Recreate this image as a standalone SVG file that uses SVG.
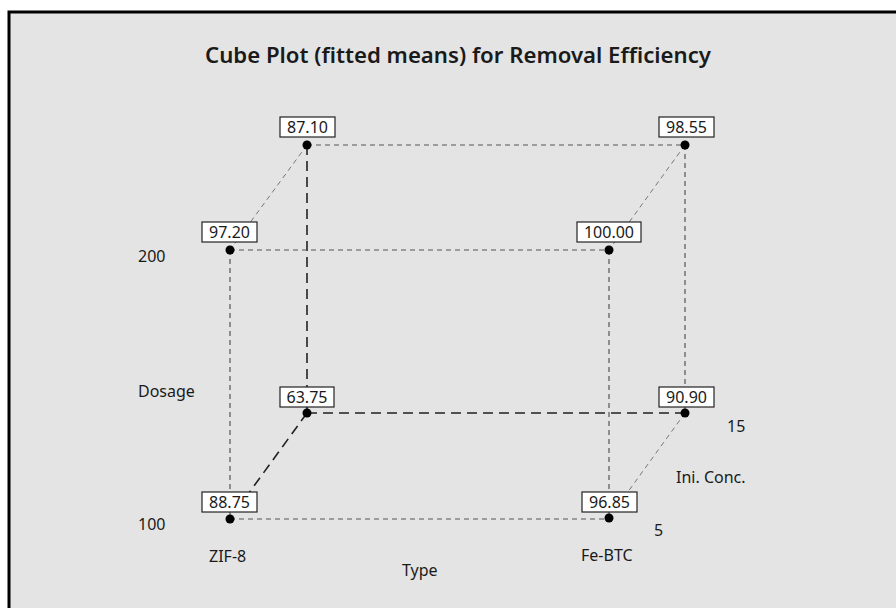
<svg xmlns="http://www.w3.org/2000/svg" width="896" height="608" viewBox="0 0 896 608">
<style>
text{font-family:"Noto Sans","Open Sans","DejaVu Sans",sans-serif;fill:#1a1a1a}
.t{font-size:21px;font-weight:600;text-anchor:middle}
.ax{font-size:16px}
.lb{font-size:16px;text-anchor:middle}
.box{fill:#fff;stroke:#222;stroke-width:1.2}
.dot{fill:#000}
.s{stroke:#555;stroke-width:1.2;stroke-dasharray:5 4;fill:none}
.sl{stroke:#777;stroke-width:1;stroke-dasharray:5 4;fill:none}
.l{stroke:#222;stroke-width:1.6;stroke-dasharray:10 6;fill:none}
</style>
<rect x="0" y="0" width="896" height="608" fill="#fff"/>
<rect x="9" y="12" width="900" height="610" fill="#e4e4e4" stroke="#000" stroke-width="3"/>
<text class="t" x="458" y="63" textLength="506" lengthAdjust="spacingAndGlyphs">Cube Plot (fitted means) for Removal Efficiency</text>
<g id="connectors">
<line class="s" x1="307" y1="145" x2="685" y2="145"/>
<line class="s" x1="685" y1="145" x2="685" y2="413"/>
<line class="sl" x1="307" y1="145" x2="230" y2="250"/>
<line class="sl" x1="685" y1="145" x2="609" y2="250"/>
<line class="sl" x1="685" y1="413" x2="609" y2="518"/>
<line class="l" x1="307" y1="145" x2="307" y2="413"/>
<line class="l" x1="307" y1="413" x2="685" y2="413"/>
<line class="l" x1="307" y1="413" x2="230" y2="519"/>
<line class="s" x1="230" y1="250" x2="609" y2="250"/>
<line class="s" x1="230" y1="250" x2="230" y2="519"/>
<line class="s" x1="609" y1="250" x2="609" y2="518"/>
<line class="s" x1="230" y1="519" x2="609" y2="519"/>
</g>
<g id="n8710"><circle class="dot" cx="307" cy="145" r="4.5"/><rect class="box" x="280" y="117" width="55" height="20"/><text class="lb" x="307.5" y="133">87.10</text></g>
<g id="n9855"><circle class="dot" cx="685" cy="145" r="4.5"/><rect class="box" x="659" y="117" width="55" height="20"/><text class="lb" x="686.5" y="133">98.55</text></g>
<g id="n9720"><circle class="dot" cx="230" cy="250" r="4.5"/><rect class="box" x="202" y="222" width="55" height="20"/><text class="lb" x="229.5" y="238">97.20</text></g>
<g id="n10000"><circle class="dot" cx="609" cy="250" r="4.5"/><rect class="box" x="577" y="222" width="64" height="20"/><text class="lb" x="609" y="238">100.00</text></g>
<g id="n6375"><circle class="dot" cx="307" cy="413" r="4.5"/><rect class="box" x="280" y="387" width="54" height="20"/><text class="lb" x="307" y="403">63.75</text></g>
<g id="n9090"><circle class="dot" cx="685" cy="413" r="4.5"/><rect class="box" x="659" y="387" width="55" height="20"/><text class="lb" x="686.5" y="403">90.90</text></g>
<g id="n8875"><circle class="dot" cx="230" cy="519" r="4.5"/><rect class="box" x="202" y="492" width="55" height="20"/><text class="lb" x="229.5" y="508">88.75</text></g>
<g id="n9685"><circle class="dot" cx="609" cy="518" r="4.5"/><rect class="box" x="582" y="492" width="55" height="20"/><text class="lb" x="609.5" y="508">96.85</text></g>
<g id="axes">
<text class="ax" x="138" y="262">200</text>
<text class="ax" x="138" y="397">Dosage</text>
<text class="ax" x="138" y="530">100</text>
<text class="ax" x="209" y="562">ZIF-8</text>
<text class="ax" x="581" y="561">Fe-BTC</text>
<text class="ax" x="402" y="576">Type</text>
<text class="ax" x="727" y="432">15</text>
<text class="ax" x="676" y="483">Ini. Conc.</text>
<text class="ax" x="654" y="536">5</text>
</g>
</svg>
